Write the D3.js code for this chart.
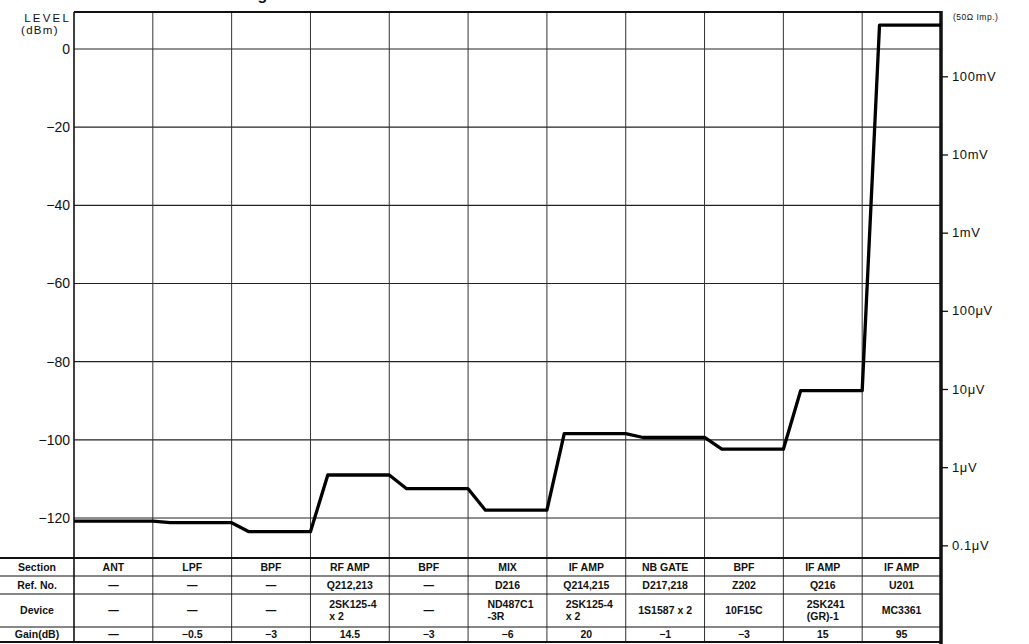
<!DOCTYPE html>
<html>
<head>
<meta charset="utf-8">
<script src="https://cdn.jsdelivr.net/npm/d3@7"></script>
<style>
  html, body { margin: 0; padding: 0; background: #fff; }
  svg { display: block; font-family: "Liberation Sans", Arial, Helvetica, sans-serif; }
</style>
</head>
<body>
<svg id="chart" width="1029" height="644"></svg>
<script>
// ---------------- data ----------------
const titleText = "Level Diagram";
const sections = ["ANT", "LPF", "BPF", "RF AMP", "BPF", "MIX", "IF AMP", "NB GATE", "BPF", "IF AMP", "IF AMP"];
const refNos = ["—", "—", "—", "Q212,213", "—", "D216", "Q214,215", "D217,218", "Z202", "Q216", "U201"];
const devices = [["—"], ["—"], ["—"], ["2SK125-4", "x 2"], ["—"], ["ND487C1", "-3R"], ["2SK125-4", "x 2"], ["1S1587 x 2"], ["10F15C"], ["2SK241", "(GR)-1"], ["MC3361"]];
const gains = ["—", "−0.5", "−3", "14.5", "−3", "−6", "20", "−1", "−3", "15", "95"];
const rowLabels = ["Section", "Ref. No.", "Device", "Gain(dB)"];
// signal level (dBm) reached inside each section
const levels = [-120.8, -121.2, -123.5, -109.0, -112.5, -118.0, -98.4, -99.4, -102.4, -87.4, 6.1];
const dbmTicks = [0, -20, -40, -60, -80, -100, -120];
const dbmTickLabels = ["0", "−20", "−40", "−60", "−80", "−100", "−120"];
const voltTicks = [1e-1, 1e-2, 1e-3, 1e-4, 1e-5, 1e-6, 1e-7];
const voltTickLabels = ["100mV", "10mV", "1mV", "100μV", "10μV", "1μV", "0.1μV"];
const zeroDbmVolts = 0.2236; // 0 dBm across 50 ohm

// ---------------- layout ----------------
const W = 1029, H = 644;
const plotLeft = 74, plotRight = 941, plotTop = 12;
const rowLines = [558, 576, 594, 627, 642];
const rampFrac = 0.22;

const svg = d3.select("#chart");
svg.append("rect").attr("width", W).attr("height", H).attr("fill", "#fff");

const x = d3.scaleBand().domain(d3.range(sections.length)).range([plotLeft, plotRight]).paddingInner(0).paddingOuter(0);
const y = d3.scaleLinear().domain([0, -120]).range([49, 518]);
const yV = d3.scaleLog().domain([zeroDbmVolts, zeroDbmVolts * 1e-6]).range([y(0), y(-120)]);
const bw = x.bandwidth();

// title (clipped at the top edge like the reference: only the descender shows)
const title = svg.append("text").attr("class", "title")
  .attr("y", -0.5).attr("font-size", 16).attr("font-weight", "bold").attr("fill", "#111")
  .text(titleText);
{
  const idx = titleText.lastIndexOf("g");
  const p = title.node().getStartPositionOfChar(idx);
  const e = title.node().getEndPositionOfChar(idx);
  title.attr("x", 262.5 - (p.x + e.x) / 2);
}

// horizontal grid
svg.append("g").selectAll("line").data(dbmTicks).join("line")
  .attr("x1", plotLeft).attr("x2", plotRight)
  .attr("y1", d => y(d)).attr("y2", d => y(d))
  .attr("stroke", "#222").attr("stroke-width", 1.1);

// vertical grid (through plot and table)
svg.append("g").selectAll("line").data(d3.range(1, sections.length)).join("line")
  .attr("x1", d => x(d)).attr("x2", d => x(d))
  .attr("y1", plotTop).attr("y2", rowLines[rowLines.length - 1])
  .attr("stroke", "#333").attr("stroke-width", 1);

// table horizontal rules
svg.append("g").selectAll("line").data(rowLines).join("line")
  .attr("x1", 0).attr("x2", plotRight)
  .attr("y1", d => d).attr("y2", d => d)
  .attr("stroke", "#111").attr("stroke-width", (d, i) => (i === 0 || i === rowLines.length - 1) ? 2 : 1.2);

// frame: top, left axis
svg.append("line").attr("x1", plotLeft).attr("x2", plotRight).attr("y1", plotTop).attr("y2", plotTop)
  .attr("stroke", "#111").attr("stroke-width", 2);
svg.append("line").attr("x1", plotLeft).attr("x2", plotLeft).attr("y1", plotTop).attr("y2", 643)
  .attr("stroke", "#111").attr("stroke-width", 1.6);

// left axis labels
const leftAxis = d3.axisLeft(y).tickValues(dbmTicks).tickSize(0).tickPadding(4)
  .tickFormat((d, i) => dbmTickLabels[i]);
const gL = svg.append("g").attr("transform", `translate(${plotLeft},0)`).call(leftAxis);
gL.select(".domain").remove();
gL.selectAll("text").attr("font-size", 14).attr("fill", "#111")
  .attr("font-family", '"Liberation Sans", Arial, sans-serif');

svg.append("text").attr("x", 71).attr("y", 21.5).attr("text-anchor", "end")
  .attr("font-size", 11.5).attr("letter-spacing", 2.2).attr("fill", "#111").text("LEVEL");
svg.append("text").attr("x", 21).attr("y", 34).attr("text-anchor", "start")
  .attr("font-size", 11.5).attr("letter-spacing", 1.3).attr("fill", "#111").text("(dBm)");

// right axis (voltage, 50 ohm)
const rightAxis = d3.axisRight(yV).tickValues(voltTicks).tickSize(7).tickPadding(4)
  .tickFormat((d, i) => voltTickLabels[i]);
const gR = svg.append("g").attr("transform", `translate(${plotRight},0)`).call(rightAxis);
gR.select(".domain").remove();
gR.selectAll(".tick line").attr("stroke", "#111").attr("stroke-width", 1.3);
gR.selectAll("text").attr("font-size", 13).attr("letter-spacing", 0.6).attr("fill", "#111")
  .attr("font-family", '"Liberation Sans", Arial, sans-serif');
svg.append("line").attr("x1", plotRight).attr("x2", plotRight).attr("y1", plotTop - 1).attr("y2", H)
  .attr("stroke", "#111").attr("stroke-width", 3.5);
svg.append("text").attr("x", 953).attr("y", 20).attr("font-size", 8.5).attr("letter-spacing", 0.5)
  .attr("fill", "#111").text("(50Ω Imp.)");

// level curve
const pts = [[x(0), levels[0]]];
for (let i = 1; i < levels.length; i++) {
  pts.push([x(i), levels[i - 1]]);
  pts.push([x(i) + rampFrac * bw, levels[i]]);
}
pts.push([plotRight, levels[levels.length - 1]]);
const line = d3.line().x(d => d[0]).y(d => y(d[1]));
svg.append("path").datum(pts).attr("d", line)
  .attr("fill", "none").attr("stroke", "#000").attr("stroke-width", 3.3)
  .attr("stroke-linejoin", "round").attr("stroke-linecap", "butt");

// table text
const tableFont = 10.5;
const rowCenters = d3.range(rowLabels.length).map(i => (rowLines[i] + rowLines[i + 1]) / 2);
svg.append("g").selectAll("text").data(rowLabels).join("text")
  .attr("x", plotLeft / 2).attr("y", (d, i) => rowCenters[i]).attr("dy", "0.36em")
  .attr("text-anchor", "middle").attr("font-size", tableFont).attr("font-weight", "bold")
  .attr("fill", "#111").text(d => d);

function simpleRow(values, r) {
  svg.append("g").selectAll("text").data(values).join("text")
    .attr("x", (d, i) => x(i) + bw / 2).attr("y", rowCenters[r]).attr("dy", "0.36em")
    .attr("text-anchor", "middle").attr("font-size", tableFont).attr("font-weight", "bold")
    .attr("fill", "#111").text(d => d);
}
simpleRow(sections, 0);
simpleRow(refNos, 1);
simpleRow(gains, 3);

// device row (may be two lines, left-aligned block centred in cell)
const gDev = svg.append("g");
devices.forEach((lines, i) => {
  if (lines.length === 1) {
    gDev.append("text").attr("x", x(i) + bw / 2).attr("y", rowCenters[2]).attr("dy", "0.36em")
      .attr("text-anchor", "middle").attr("font-size", tableFont).attr("font-weight", "bold")
      .attr("fill", "#111").text(lines[0]);
  } else {
    const ts = lines.map((l, k) => gDev.append("text")
      .attr("y", rowCenters[2] - 6 + k * 12).attr("dy", "0.36em")
      .attr("font-size", tableFont).attr("font-weight", "bold").attr("fill", "#111").text(l));
    const wMax = d3.max(ts, t => t.node().getComputedTextLength());
    ts.forEach(t => t.attr("x", x(i) + bw / 2 - wMax / 2 + 3));
  }
});
</script>
</body>
</html>
